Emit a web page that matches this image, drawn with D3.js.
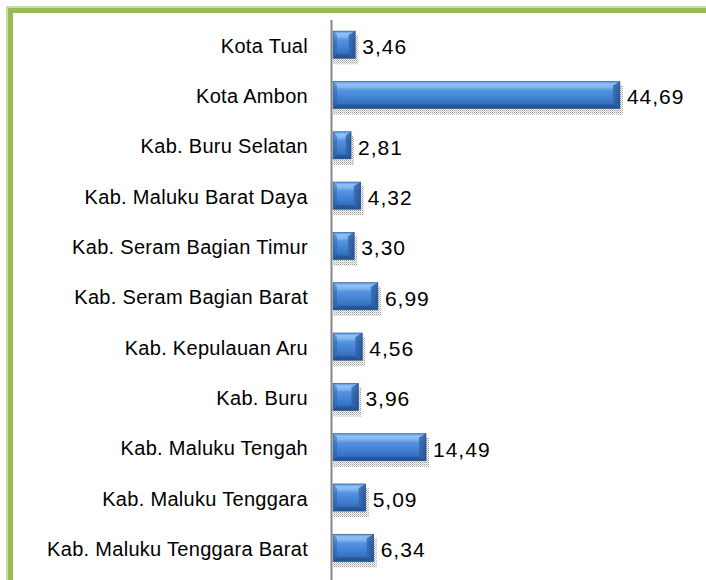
<!DOCTYPE html>
<html>
<head>
<meta charset="utf-8">
<script src="https://cdn.jsdelivr.net/npm/d3@7/dist/d3.min.js"></script>
<style>
html,body{margin:0;padding:0;background:#fff;}
svg{display:block;}
</style>
</head>
<body>
<svg id="chart" width="706" height="580"></svg>
<script>
const categories = [
  "Kota Tual",
  "Kota Ambon",
  "Kab. Buru Selatan",
  "Kab. Maluku Barat Daya",
  "Kab. Seram Bagian Timur",
  "Kab. Seram Bagian Barat",
  "Kab. Kepulauan Aru",
  "Kab. Buru",
  "Kab. Maluku Tengah",
  "Kab. Maluku Tenggara",
  "Kab. Maluku Tenggara Barat"
];
const values = [3.46, 44.69, 2.81, 4.32, 3.30, 6.99, 4.56, 3.96, 14.49, 5.09, 6.34];
const valueLabels = ["3,46", "44,69", "2,81", "4,32", "3,30", "6,99", "4,56", "3,96", "14,49", "5,09", "6,34"];
const xDomain = [0, 50];

const svg = d3.select("#chart");
const defs = svg.append("defs");

// bar gradient (bevelled look)
const g1 = defs.append("linearGradient").attr("id", "barGrad")
  .attr("x1", 0).attr("y1", 0).attr("x2", 0).attr("y2", 1);
[["0%", "#5590dc"], ["10%", "#92c2f5"], ["22%", "#80b4f0"], ["32%", "#5594e0"],
 ["65%", "#3f7ecf"], ["88%", "#3469b5"], ["100%", "#285a9e"]]
  .forEach(([o, c]) => g1.append("stop").attr("offset", o).attr("stop-color", c));

const g2 = defs.append("linearGradient").attr("id", "endGrad")
  .attr("x1", 0).attr("y1", 0).attr("x2", 1).attr("y2", 0);
[["0%", "#3468b0"], ["100%", "#214c8a"]]
  .forEach(([o, c]) => g2.append("stop").attr("offset", o).attr("stop-color", c));

// dotted shadow pattern
const pat = defs.append("pattern").attr("id", "dots")
  .attr("width", 2).attr("height", 2).attr("patternUnits", "userSpaceOnUse");
pat.append("rect").attr("width", 1).attr("height", 1).attr("fill", "#9a9a9a");
pat.append("rect").attr("x", 1).attr("y", 1).attr("width", 1).attr("height", 1).attr("fill", "#c8c8c8");

// frame
svg.append("rect").attr("x", 9.5).attr("y", 9.5).attr("width", 800).attr("height", 800)
  .attr("fill", "none").attr("stroke", "#c9dba6").attr("stroke-width", 7);
svg.append("rect").attr("x", 10.5).attr("y", 10.5).attr("width", 800).attr("height", 800)
  .attr("fill", "none").attr("stroke", "#9bbb59").attr("stroke-width", 5);

const x = d3.scaleLinear().domain(xDomain).range([333, 654]);
const y = d3.scaleBand().domain(categories).range([19.5, 573]).paddingInner(0.46).paddingOuter(0.23);

const bh = y.bandwidth();

// shadows
svg.append("g").selectAll("rect").data(values).join("rect")
  .attr("x", x(0))
  .attr("y", (d, i) => y(categories[i]) + 4)
  .attr("width", d => x(d) - x(0) + 3)
  .attr("height", bh + 2)
  .attr("fill", "url(#dots)");

// bars
const bars = svg.append("g").selectAll("g").data(values).join("g");
bars.append("rect")
  .attr("x", x(0))
  .attr("y", (d, i) => y(categories[i]))
  .attr("width", d => x(d) - x(0))
  .attr("height", bh)
  .attr("fill", "url(#barGrad)")
  .attr("stroke", "#2a5795").attr("stroke-width", 0.6);
// right end bevel
bars.append("path")
  .attr("d", (d, i) => {
    const x1 = x(d), y0 = y(categories[i]);
    const w = Math.min(7, (x1 - x(0)) * 0.3);
    return `M${x1 - w},${y0 + 4}L${x1},${y0}L${x1},${y0 + bh}L${x1 - w},${y0 + bh - 4}Z`;
  })
  .attr("fill", "url(#endGrad)").attr("opacity", 0.8);
// left end bevel
bars.append("path")
  .attr("d", (d, i) => {
    const x0 = x(0), y0 = y(categories[i]);
    return `M${x0},${y0}L${x0 + 4},${y0 + 4}L${x0 + 4},${y0 + bh - 4}L${x0},${y0 + bh}Z`;
  })
  .attr("fill", "#2d5ea3").attr("opacity", 0.5);
// bottom bevel
bars.append("path")
  .attr("d", (d, i) => {
    const x0 = x(0), x1 = x(d), y0 = y(categories[i]);
    const w = Math.min(7, (x1 - x0) * 0.3);
    return `M${x0},${y0 + bh}L${x0 + 4},${y0 + bh - 4}L${x1 - w},${y0 + bh - 4}L${x1},${y0 + bh}Z`;
  })
  .attr("fill", "#1f4a86").attr("opacity", 0.55);

// axis line
svg.append("line").attr("x1", 331.5).attr("x2", 331.5).attr("y1", 20).attr("y2", 580)
  .attr("stroke", "#868686").attr("stroke-width", 2);

// category labels
svg.append("g").selectAll("text").data(categories).join("text")
  .attr("x", 308)
  .attr("y", d => y(d) + bh / 2 + 1)
  .attr("text-anchor", "end")
  .attr("dominant-baseline", "central")
  .attr("font-family", "'Liberation Sans', Arial, sans-serif")
  .attr("font-size", 20)
  .attr("letter-spacing", 0.3)
  .attr("fill", "#000")
  .text(d => d);

// value labels
svg.append("g").selectAll("text").data(values).join("text")
  .attr("x", d => x(d) + 7)
  .attr("y", (d, i) => y(categories[i]) + bh / 2 + 2)
  .attr("text-anchor", "start")
  .attr("dominant-baseline", "central")
  .attr("font-family", "'Liberation Sans', Arial, sans-serif")
  .attr("font-size", 21)
  .attr("letter-spacing", 1)
  .attr("fill", "#000")
  .text((d, i) => valueLabels[i]);
</script>
</body>
</html>
